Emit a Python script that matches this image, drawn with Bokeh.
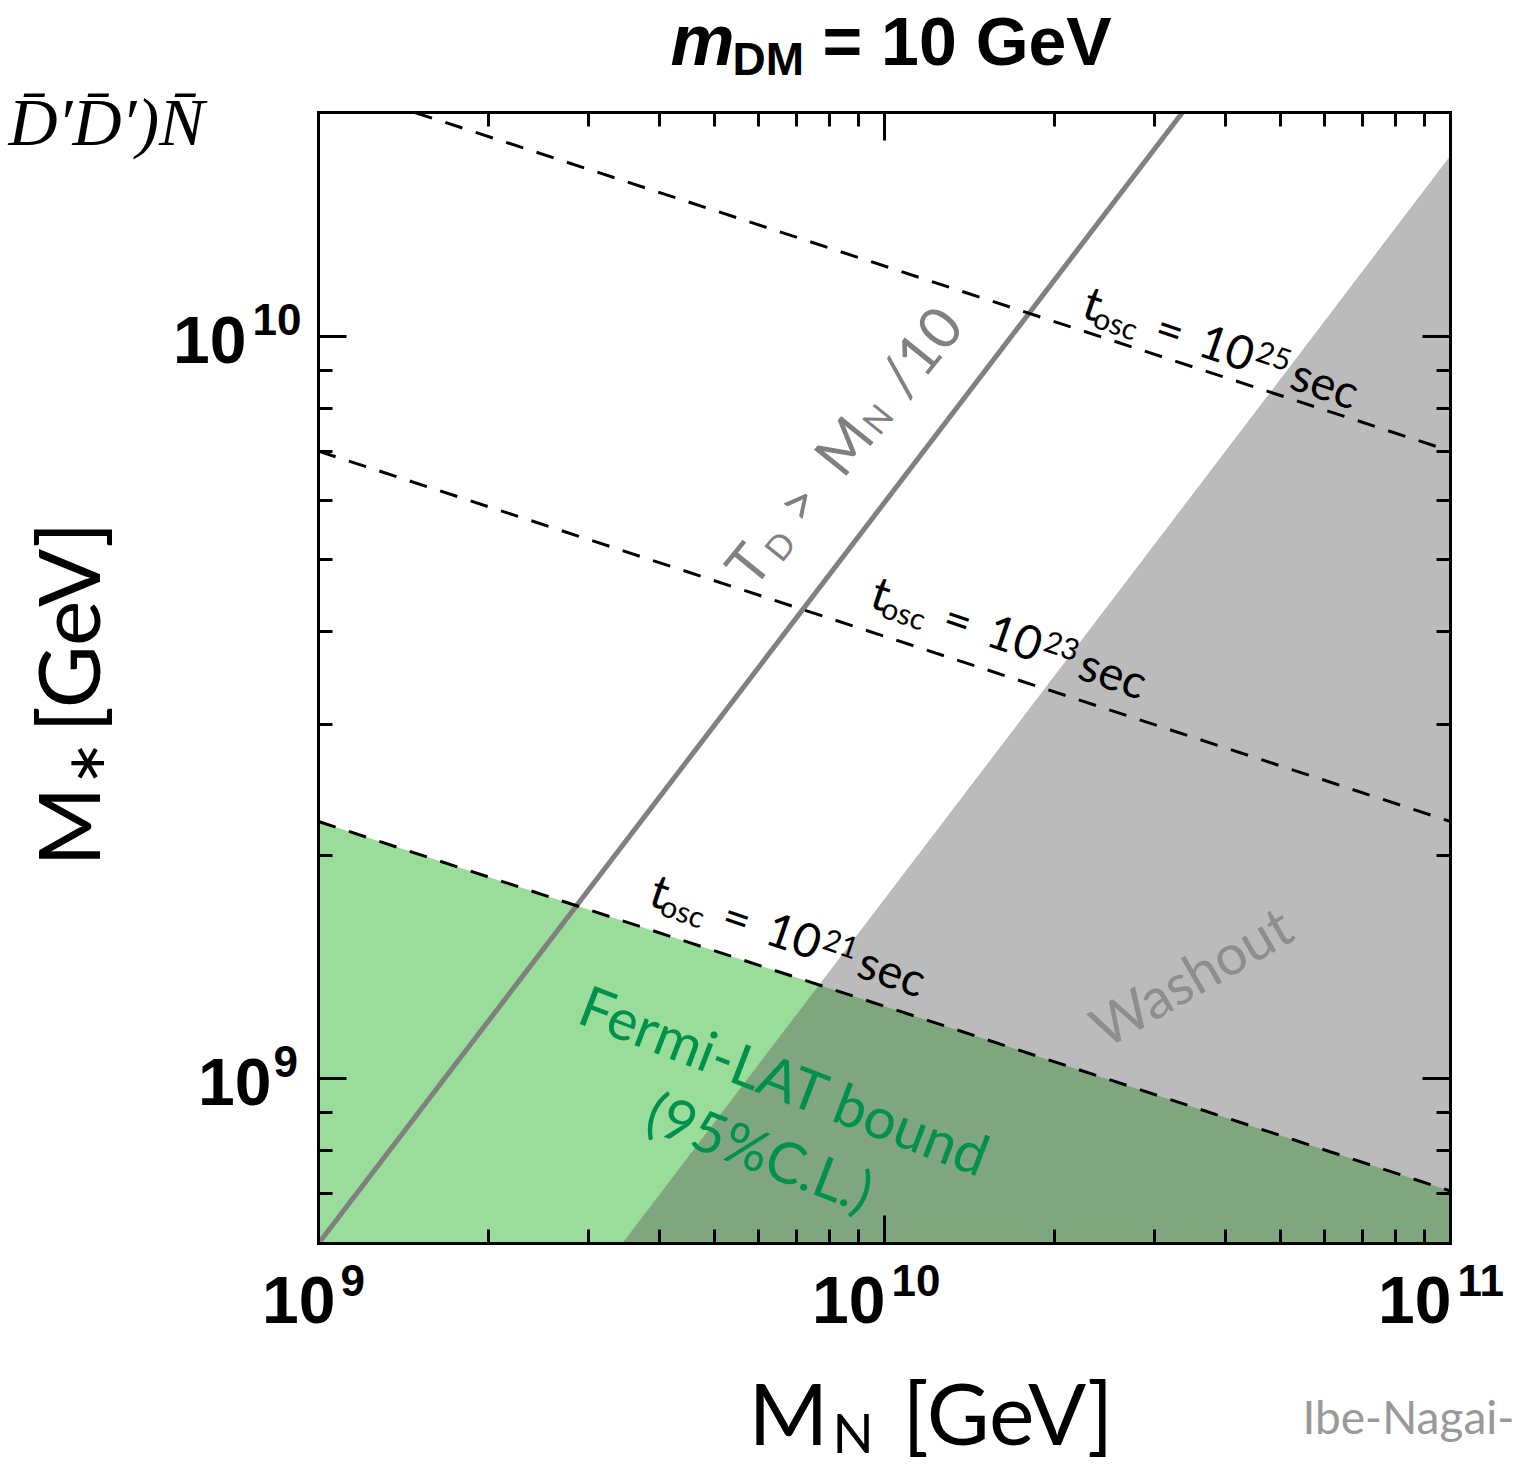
import math
from bokeh.plotting import figure
from bokeh.models import Label, LogAxis, FixedTicker, Range1d
from bokeh.embed import file_html
from bokeh.resources import INLINE

# ---------------- data ----------------
x_box = (1e9, 1e11)            # M_N [GeV] shown range
y_box = (6.0e8, 2.0e10)        # M_* [GeV] shown range

# T_D > M_N/10 boundary (solid gray)
td_x = [1e9, 3.36e10]
td_y = [6.0e8, 2.0e10]

# washout boundary (gray region to the lower right)
wash_x = [3.44e9, 1e11]
wash_y = [6.0e8, 1.75e10]

# t_osc contours (dashed)
tosc21_x = [1e9, 1e11]
tosc21_y = [2.22e9, 7.06e8]
tosc23_x = [1e9, 1e11]
tosc23_y = [7.0e9, 2.22e9]
tosc25_x = [1.48e9, 1e11]
tosc25_y = [2.0e10, 7.0e9]

x_major = [1e9, 1e10, 1e11]
x_minor = [k * 10.0 ** e for e in (9, 10) for k in range(2, 10)]
y_major = [1e9, 1e10]
y_minor = [7e8, 8e8, 9e8] + [k * 1e9 for k in range(2, 10)]

# ---------------- pixel <-> data mapping of the plot box ----------------
W, H = 1516, 1465
L, R, T, B = 318, 1450, 112, 1243
lx0, lx1 = math.log10(x_box[0]), math.log10(x_box[1])
ly0, ly1 = math.log10(y_box[0]), math.log10(y_box[1])


def X(px):
    return 10 ** (lx0 + (px - L) / (R - L) * (lx1 - lx0))


def Y(py):
    return 10 ** (ly0 + (B - py) / (B - T) * (ly1 - ly0))


def PX(v):
    return L + (math.log10(v) - lx0) / (lx1 - lx0) * (R - L)


def PY(v):
    return B - (math.log10(v) - ly0) / (ly1 - ly0) * (B - T)


# the frame spans the whole canvas, the axes are drawn around the plot box
p = figure(width=W, height=H, x_axis_type="log", y_axis_type="log",
           x_range=Range1d(X(0), X(W)), y_range=Range1d(Y(H), Y(0)),
           x_axis_location=None, y_axis_location=None,
           output_backend="svg", toolbar_location=None,
           min_border=0, min_border_left=0, min_border_right=0,
           min_border_top=0, min_border_bottom=0)
p.title.visible = False
p.grid.visible = False
p.outline_line_color = None
p.background_fill_color = "white"
p.border_fill_color = "white"


def intersect(xa, ya, xb, yb):
    ax0, ax1 = math.log10(xa[0]), math.log10(xa[1])
    ay0, ay1 = math.log10(ya[0]), math.log10(ya[1])
    bx0, bx1 = math.log10(xb[0]), math.log10(xb[1])
    by0, by1 = math.log10(yb[0]), math.log10(yb[1])
    sa = (ay1 - ay0) / (ax1 - ax0)
    sb = (by1 - by0) / (bx1 - bx0)
    lx = (by0 - sb * bx0 - ay0 + sa * ax0) / (sa - sb)
    ly = ay0 + sa * (lx - ax0)
    return 10 ** lx, 10 ** ly


GREEN = "#9ADD9A"
GRAY_REGION = "#BBBBBB"
OVERLAP = "#7FA67F"

# washout region
p.patch([wash_x[0], wash_x[1], wash_x[1]], [wash_y[0], wash_y[1], y_box[0]],
        fill_color=GRAY_REGION, line_color=None)
# Fermi-LAT region (below the 1e21 line)
p.patch([tosc21_x[0], tosc21_x[0], tosc21_x[1], tosc21_x[1]],
        [y_box[0], tosc21_y[0], tosc21_y[1], y_box[0]],
        fill_color=GREEN, line_color=None)
# overlap of both
ix, iy = intersect(wash_x, wash_y, tosc21_x, tosc21_y)
p.patch([ix, tosc21_x[1], tosc21_x[1], wash_x[0]],
        [iy, tosc21_y[1], y_box[0], wash_y[0]],
        fill_color=OVERLAP, line_color=None)

p.line(td_x, td_y, line_color="#808080", line_width=5)
for xs, ys in ((tosc21_x, tosc21_y), (tosc23_x, tosc23_y), (tosc25_x, tosc25_y)):
    p.line(xs, ys, line_color="black", line_width=3, line_dash="18 14")

# ---------------- axes (box with inward ticks) ----------------
xt = FixedTicker(ticks=x_major, minor_ticks=x_minor)
yt = FixedTicker(ticks=y_major, minor_ticks=y_minor)
axes = [
    (LogAxis(ticker=xt, fixed_location=y_box[0], bounds=x_box), "below"),
    (LogAxis(ticker=xt, fixed_location=y_box[1], bounds=x_box), "above"),
    (LogAxis(ticker=yt, fixed_location=x_box[0], bounds=y_box), "left"),
    (LogAxis(ticker=yt, fixed_location=x_box[1], bounds=y_box), "right"),
]
for ax, side in axes:
    ax.axis_line_width = 3
    ax.axis_line_color = "black"
    ax.axis_line_cap = "square"
    ax.major_tick_line_width = 3
    ax.minor_tick_line_width = 3
    ax.major_tick_in = 28
    ax.major_tick_out = 0
    ax.minor_tick_in = 14
    ax.minor_tick_out = 0
    ax.major_label_text_font_size = "10px"
    ax.major_label_text_alpha = 0.0
    p.add_layout(ax, side)

BASE_K = 0.34   # alphabetic baseline correction (fraction of font size)


def lab(px, py, text, size, font="Lato", style="normal", color="black",
        align="left", baseline="alphabetic", angle=0.0):
    if baseline == "alphabetic":
        px -= BASE_K * size * math.sin(angle)
        py -= BASE_K * size * math.cos(angle)
    p.add_layout(Label(x=X(px), y=Y(py), text=text, angle=angle,
                       text_font=font, text_font_size=f"{size}px",
                       text_font_style=style, text_color=color,
                       text_align=align, text_baseline=baseline))


def rot_text(px0, py0, deg, pieces, color="black", font="Lato"):
    a = math.radians(deg)
    ux, uy = math.cos(a), -math.sin(a)
    nx, ny = math.sin(a), math.cos(a)
    for txt, size, d, pp, style in pieces:
        lab(px0 + d * ux + pp * nx, py0 + d * uy + pp * ny, txt, size,
            font=font, style=style, color=color, angle=a)


# tick labels
SANS = "Liberation Sans"
for v in y_major:
    ty = PY(v)
    exp = str(int(round(math.log10(v))))
    if len(exp) == 2:
        lab(246, ty + 26, "10", 66, font=SANS, style="bold", align="right")
        lab(252, ty - 2, exp, 44, font=SANS, style="bold")
    else:
        lab(271, ty + 26, "10", 66, font=SANS, style="bold", align="right")
        lab(273, ty - 2, exp, 44, font=SANS, style="bold")
for v in x_major:
    tx = PX(v)
    exp = str(int(round(math.log10(v))))
    if len(exp) == 1:
        lab(tx + 17, 1322, "10", 66, font=SANS, style="bold", align="right")
        lab(tx + 22, 1295, exp, 44, font=SANS, style="bold")
    else:
        lab(tx + 1, 1322, "10", 66, font=SANS, style="bold", align="right")
        lab(tx + 7, 1295, exp, 44, font=SANS, style="bold")

# title
rot_text(670, 64, 0, [("m", 72, 0, 0, "bold italic"),
                      ("DM", 46, 62, 10, "bold"),
                      ("= 10 GeV", 68, 152, 0, "bold")], font=SANS)

# axis labels
rot_text(748, 1440, 0, [("M", 86, 0, 0, "normal"),
                        ("N", 54, 84, 10, "normal"),
                        ("[GeV]", 86, 154, 0, "normal")])
rot_text(95, 866, 90, [("M", 86, 0, 0, "normal"),
                       ("\u2217", 52, 82, 6, "normal"),
                       ("[GeV]", 86, 134, 0, "normal")])


# t_osc labels
def tosc_label(px0, py0, ex):
    rot_text(px0, py0, -19, [("t", 47, 0, 0, "normal"),
                             ("osc", 30, 14, 6, "normal"),
                             ("=", 47, 76, 0, "normal"),
                             ("10", 47, 122, 0, "normal"),
                             (ex, 30, 179, -14, "normal"),
                             ("sec", 47, 220, 0, "normal")])


tosc_label(1080, 314, "25")
tosc_label(868, 604, "23")
tosc_label(647, 902, "21")

# T_D > M_N/10
rot_text(751, 588, 51, [("T", 56, 0, 0, "normal"),
                        ("D", 34, 38, 6, "normal"),
                        (">", 56, 80, 0, "normal"),
                        ("M", 58, 142, 0, "normal"),
                        ("N", 34, 198, 2, "normal"),
                        ("/10", 58, 244, 0, "normal")], color="#808080")

# region labels
lab(1190, 975, "Washout", 56, color="#8E8E8E", align="center",
    baseline="middle", angle=math.radians(30))
lab(785, 1079, "Fermi-LAT bound", 57, color="#00914D", align="center",
    baseline="middle", angle=math.radians(-21))
lab(760, 1150, "(95%C.L.)", 57, color="#00914D", align="center",
    baseline="middle", angle=math.radians(-21))

# texts that sit at the edges of the picture
lab(8, 145, "D\u0304\u2032D\u0304\u2032)N\u0304", 68, font="Liberation Serif",
    style="italic")
lab(1302, 1432, "Ibe-Nagai-", 46, color="#999999")

open("out.html", "w").write(file_html(p, INLINE))
